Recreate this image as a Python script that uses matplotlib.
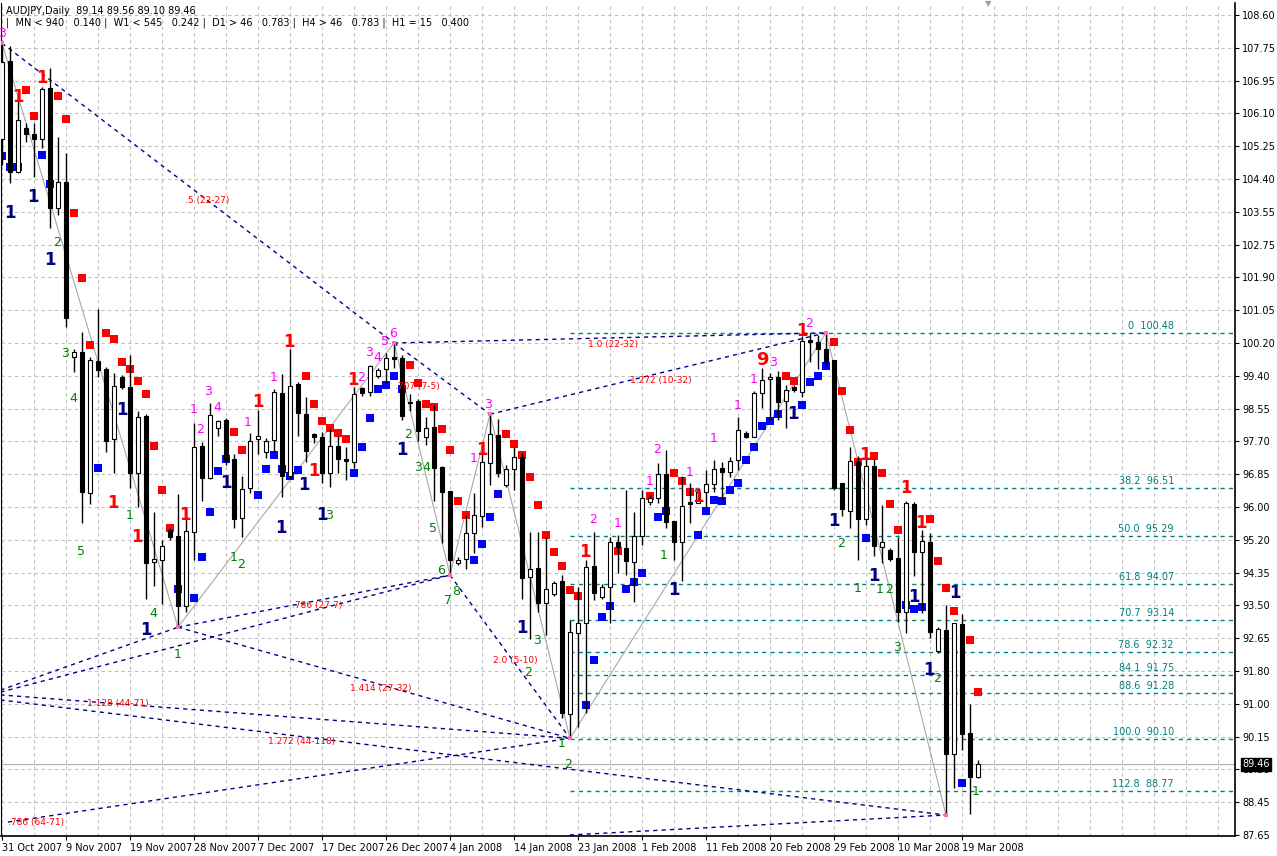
import numpy as np
import matplotlib
matplotlib.use("Agg")
from matplotlib import pyplot as plt

# AUDJPY daily candles, 31 Oct 2007 .. 19 Mar 2008 (one bar per index)
opens = [105.43, 107.42, 104.59, 105.72, 105.56, 105.43, 106.73, 103.67, 104.34, 99.86,
         99.99, 96.38, 99.76, 99.56, 97.76, 99.35, 99.10, 96.89, 98.35, 94.62,
         94.68, 95.44, 95.29, 93.50, 95.39, 97.58, 96.77, 98.04, 98.25, 97.25,
         95.75, 96.52, 97.76, 97.43, 97.74, 98.94, 96.82, 99.17, 98.40, 97.89,
         97.81, 96.89, 97.58, 97.25, 97.17, 99.07, 98.97, 99.38, 99.56, 99.84,
         99.84, 98.71, 98.74, 97.81, 98.07, 97.05, 96.44, 94.60, 94.70, 95.36,
         95.80, 97.15, 97.87, 96.59, 97.00, 97.30, 94.24, 94.47, 93.57, 93.80,
         94.14, 90.74, 92.81, 93.06, 94.52, 93.73, 93.98, 95.13, 94.98, 94.62,
         95.29, 96.16, 96.26, 96.87, 95.67, 95.13, 96.16, 96.13, 96.41, 96.62,
         97.02, 96.92, 97.23, 97.92, 97.81, 98.94, 99.30, 99.35, 98.74, 99.10,
         98.97, 100.27, 100.25, 100.07, 99.79, 96.64, 95.93, 97.18, 95.72, 97.07,
         95.01, 94.93, 94.73, 93.34, 96.11, 94.88, 95.13, 92.35, 92.89, 89.72,
         93.04, 90.25, 89.14]
highs = [107.88, 107.81, 106.55, 105.84, 105.84, 106.76, 107.25, 105.48, 105.07, 100.07,
         100.50, 99.86, 101.09, 99.61, 99.45, 99.40, 99.91, 98.48, 98.40, 95.90,
         95.19, 95.49, 96.36, 95.95, 98.17, 97.69, 98.68, 98.25, 98.30, 97.38,
         96.82, 97.92, 98.50, 97.79, 99.05, 99.43, 100.07, 99.22, 98.84, 97.92,
         97.94, 98.02, 97.84, 97.56, 99.10, 99.10, 99.66, 99.58, 99.96, 100.22,
         99.91, 98.92, 98.79, 98.32, 98.63, 97.07, 96.44, 94.75, 95.82, 96.38,
         97.61, 98.40, 98.28, 97.10, 97.56, 97.41, 95.39, 95.39, 95.26, 94.14,
         94.29, 93.14, 93.98, 94.68, 95.39, 94.06, 95.26, 95.31, 96.46, 95.90,
         96.46, 96.33, 97.15, 97.48, 95.67, 96.82, 96.64, 96.46, 96.97, 97.23,
         97.18, 97.30, 98.32, 97.97, 98.99, 99.58, 99.45, 99.50, 99.15, 99.15,
         100.40, 100.47, 100.42, 100.48, 99.79, 96.64, 97.56, 97.33, 97.53, 97.25,
         96.08, 94.98, 95.26, 96.18, 96.16, 95.44, 95.36, 92.96, 93.52, 93.06,
         93.29, 91.00, 89.56]
lows = [104.77, 104.31, 104.56, 105.36, 104.46, 105.21, 103.16, 103.48, 100.63, 99.48,
        95.62, 96.11, 99.35, 97.43, 96.89, 99.05, 96.52, 96.03, 93.68, 94.02,
        93.55, 95.19, 92.96, 93.34, 94.68, 96.18, 96.75, 97.84, 97.10, 95.49,
        95.26, 96.38, 97.38, 97.28, 97.43, 96.29, 96.77, 97.84, 97.18, 97.66,
        96.64, 96.54, 96.89, 96.72, 97.03, 98.86, 98.86, 99.33, 99.20, 99.58,
        98.25, 98.48, 97.71, 97.61, 96.18, 95.11, 94.29, 94.55, 94.45, 94.85,
        95.52, 96.59, 96.79, 96.54, 96.46, 93.68, 92.65, 93.34, 92.76, 93.75,
        90.64, 90.12, 90.41, 90.77, 93.65, 93.68, 93.06, 94.34, 94.29, 93.60,
        95.06, 96.08, 96.13, 95.49, 94.68, 94.14, 95.62, 96.13, 96.03, 96.41,
        96.21, 96.79, 96.97, 97.79, 97.81, 98.56, 98.25, 98.25, 98.04, 98.97,
        98.84, 99.73, 99.56, 99.66, 96.46, 95.80, 95.49, 94.68, 95.57, 94.78,
        94.60, 94.65, 93.09, 92.81, 94.27, 93.32, 92.68, 92.30, 88.16, 88.85,
        89.82, 88.18, 89.10]
closes = [107.40, 104.59, 105.92, 105.56, 105.43, 106.71, 103.67, 104.34, 100.86, 99.99,
          96.41, 99.79, 99.53, 97.71, 99.13, 99.10, 96.89, 98.32, 94.60, 94.70,
          95.04, 95.26, 93.50, 95.41, 97.56, 96.77, 98.38, 98.22, 97.20, 95.72,
          96.49, 97.71, 97.84, 97.71, 98.97, 96.82, 99.12, 98.43, 97.46, 97.81,
          96.89, 97.58, 97.25, 97.20, 98.92, 98.94, 99.63, 99.53, 99.84, 99.81,
          98.35, 98.68, 97.97, 98.04, 97.02, 96.41, 94.68, 94.68, 95.36, 95.82,
          97.18, 97.89, 96.89, 97.00, 97.30, 94.21, 94.45, 93.57, 93.93, 94.09,
          90.77, 92.83, 93.06, 94.50, 93.83, 93.98, 95.13, 95.01, 94.65, 95.29,
          96.26, 96.26, 96.87, 95.65, 95.13, 96.05, 96.11, 96.41, 96.62, 97.00,
          96.92, 97.20, 97.99, 97.81, 98.94, 99.27, 99.35, 98.71, 99.02, 99.02,
          100.27, 100.25, 100.07, 99.76, 96.52, 95.98, 97.20, 95.72, 97.07, 95.03,
          95.13, 94.70, 93.34, 96.13, 94.88, 95.16, 92.83, 92.91, 89.72, 93.06,
          90.23, 89.13, 89.46]

date_labels = ["31 Oct 2007", "9 Nov 2007", "19 Nov 2007", "28 Nov 2007", "7 Dec 2007",
               "17 Dec 2007", "26 Dec 2007", "4 Jan 2008", "14 Jan 2008", "23 Jan 2008",
               "1 Feb 2008", "11 Feb 2008", "20 Feb 2008", "29 Feb 2008", "10 Mar 2008",
               "19 Mar 2008"]
price_labels = ["87.65", "88.45", "89.30", "90.15", "91.00", "91.80", "92.65", "93.50",
                "94.35", "95.20", "96.00", "96.85", "97.70", "98.55", "99.40", "100.20",
                "101.05", "101.90", "102.75", "103.55", "104.40", "105.25", "106.10",
                "106.95", "107.75", "108.60"]

# trailing stop squares
red_bars = [3, 4, 7, 8, 9, 10, 11, 13, 14, 15, 16, 17, 18, 19, 20, 21, 29, 30,
            38, 39, 40, 41, 42, 43, 51, 52, 53, 54, 55, 56, 57, 58,
            63, 64, 65, 66, 67, 68, 69, 70, 71, 72, 77, 81, 84, 85, 86, 98, 99,
            104, 105, 106, 107, 109, 110, 111, 112, 116, 117, 118, 119, 121, 122]
red_vals = [106.68, 106.02, 106.53, 105.94, 103.54, 101.88, 100.17, 100.47, 100.32, 99.73,
            99.56, 99.25, 98.92, 97.59, 96.46, 95.49, 97.95, 97.49,
            99.38, 98.66, 98.23, 98.05, 97.92, 97.77, 99.66, 99.20, 98.66, 98.58, 98.02,
            97.49, 96.18, 95.82,
            97.89, 97.64, 97.36, 96.80, 96.08, 95.31, 94.88, 94.52, 93.91, 93.76, 94.90,
            96.31, 96.90, 96.69, 96.41, 99.38, 99.25,
            100.24, 98.99, 97.99, 97.18, 97.33, 96.90, 96.11, 95.44, 95.72, 94.65, 93.96,
            93.37, 92.63, 91.30]
blue_bars = [0, 1, 2, 5, 6, 12, 22, 24, 25, 26, 27, 28, 32, 33, 34, 35, 36, 37,
             44, 45, 46, 47, 48, 49, 50, 59, 60, 61, 62, 73, 74, 75, 76, 78, 79, 80,
             82, 83, 87, 88, 89, 90, 91, 92, 93, 94, 95, 96, 97, 100, 101, 102, 103,
             108, 113, 114, 115, 120]
blue_vals = [105.00, 104.72, 104.72, 105.02, 104.28, 97.03, 93.93, 93.70, 94.75, 95.90,
             96.95, 97.25, 96.34, 97.00, 97.36, 97.00, 96.82, 96.98,
             96.90, 97.56, 98.30, 99.04, 99.15, 99.38, 99.04, 94.68, 95.08, 95.77, 96.36,
             90.97, 92.12, 93.22, 93.50, 93.93, 94.11, 94.34,
             95.77, 95.93, 95.31, 95.93, 96.21, 96.18, 96.46, 96.64, 97.23, 97.56, 98.10,
             98.23, 98.41, 98.64, 99.22, 99.38, 99.63,
             95.24, 93.52, 93.42, 93.47, 88.98]

# wave counters (bar, price, text)
navy_marks = [(1, 103.54, "1"), (3.9, 103.95, "1"), (6, 102.34, "1"), (15, 98.51, "1"),
              (18, 92.89, "1"), (28, 96.64, "1"), (34.9, 95.49, "1"), (37.7, 96.58, "1"),
              (40, 95.83, "1"), (50, 97.49, "1"), (65, 92.94, "1"), (84, 93.91, "1"),
              (98.9, 98.41, "1"), (104, 95.67, "1"), (109, 94.27, "1"), (114, 93.73, "1"),
              (115.9, 91.86, "1"), (119.1, 93.83, "1")]
red_marks = [(2, 106.50, "1"), (5, 106.99, "1"), (13.9, 96.13, "1"), (16.9, 95.26, "1"),
             (22.9, 95.82, "1"), (32, 98.71, "1"), (35.9, 100.25, "1"), (39.0, 96.95, "1"),
             (43.9, 99.27, "1"), (60, 97.49, "1"), (72.9, 94.88, "1"), (87, 96.28, "1"),
             (100, 100.53, "1"), (107.9, 97.36, "1"), (113, 96.51, "1"), (114.9, 95.62, "1"),
             (95, 99.78, "9")]
magenta_marks = [(0, 108.14, "3"), (23.9, 98.51, "1"), (24.75, 98.02, "2"), (25.75, 98.97, "3"),
                 (26.9, 98.56, "4"), (30.75, 98.18, "1"), (33.9, 99.33, "1"), (44.9, 99.35, "2"),
                 (45.9, 99.99, "3"), (46.9, 99.86, "4"), (47.9, 100.25, "5"), (48.9, 100.47, "6"),
                 (58.9, 97.26, "1"), (60.75, 98.66, "3"), (73.9, 95.70, "2"), (76.9, 95.62, "1"),
                 (80.9, 96.67, "1"), (81.9, 97.49, "2"), (85.9, 96.92, "1"), (88.9, 97.79, "1"),
                 (91.9, 98.63, "1"), (93.9, 99.30, "1"), (96.4, 99.71, "3"), (100.9, 100.73, "2")]
green_marks = [(6.9, 102.80, "2"), (7.9, 99.96, "3"), (8.9, 98.81, "4"), (9.9, 94.90, "5"),
               (15.9, 95.80, "1"), (18.9, 93.32, "4"), (22, 92.25, "1"), (28.9, 94.75, "1"),
               (29.9, 94.57, "2"), (40.9, 95.82, "3"), (50.75, 97.89, "2"), (52, 97.05, "3"),
               (53, 97.05, "4"), (53.9, 95.49, "5"), (54.9, 94.42, "6"), (55.75, 93.65, "7"),
               (56.75, 93.86, "8"), (65.75, 91.80, "2"), (66.9, 92.63, "3"), (69.9, 90.00, "1"),
               (70.75, 89.44, "2"), (82.75, 94.80, "1"), (104.9, 95.11, "2"), (106.9, 93.96, "1"),
               (109.75, 93.91, "1"), (110.9, 93.91, "2"), (111.9, 92.43, "3"), (116.9, 91.66, "2"),
               (121.75, 88.75, "1")]

# zigzag pivots
zz_bars = [0, 22, 49, 56, 61, 71, 103, 118]
zz_vals = [107.88, 92.96, 100.22, 94.29, 98.40, 90.12, 100.48, 88.16]

# ratio lines: (bar1, price1, bar2, price2)
ratio_lines = [(0, 107.88, 49, 100.22), (49, 100.22, 61, 98.40), (61, 98.40, 103, 100.48),
               (49, 100.22, 103, 100.48), (22, 92.96, 56, 94.29), (56, 94.29, 71, 90.12),
               (22, 92.96, 71, 90.12), (-0.2, 91.35, 22, 92.96), (-0.2, 91.30, 56, 94.29),
               (-0.2, 91.23, 71, 90.12), (-0.2, 91.10, 118, 88.16), (0.75, 87.98, 71, 90.12),
               (71, 87.65, 118, 88.16)]
ratio_texts = [(22.9, 103.85, ".5 (22-27)"), (49.1, 99.12, ".707 (7-5)"),
               (78.5, 99.27, "1.272 (10-32)"), (73.25, 100.17, "1.0 (22-32)"),
               (36.25, 93.52, ".786 (27-7)"), (61.4, 92.12, "2.0 (5-10)"),
               (43.5, 91.38, "1.414 (27-32)"), (10.6, 91.02, "1.128 (44-71)"),
               (33.25, 90.05, "1.272 (44-118)"), (0.75, 87.96, ".786 (64-71)")]

fib_pct = ["0", "38.2", "50.0", "61.8", "70.7", "78.6", "84.1", "88.6", "100.0", "112.8"]
fib_vals = [100.48, 96.51, 95.29, 94.07, 93.14, 92.32, 91.75, 91.28, 90.10, 88.77]

last_price = 89.46

W, H = 1277, 856
fig = plt.figure(figsize=(W / 100, H / 100), dpi=100)
fig.patch.set_facecolor("white")
ax = fig.add_axes([1 / W, 20 / H, 1234 / W, 833 / H])
ax.set_xlim(-0.125, 154.125)
ax.set_ylim(87.624, 108.907)

n = len(opens)
xs = np.arange(n)

# grid
grid_kw = dict(color="#c0c0c0", lw=0.8, linestyle=(0, (3, 3)), zorder=0)
for gx in range(0, 156, 4):
    ax.axvline(gx, **grid_kw)
yt = np.linspace(87.65, 108.60, 26)
for gy in yt:
    ax.axhline(gy, **grid_kw)

# current price line
ax.axhline(last_price, color="#b4b4b4", lw=0.9, zorder=1)

# fib levels
for pct, v in zip(fib_pct, fib_vals):
    ax.plot([71, 154.2], [v, v], color="#008080", lw=1, linestyle=(0, (3, 3)), zorder=2)
    ax.text(146.5, v + 0.05, pct + "  " + f"{v:.2f}", color="#008080", fontsize=7,
            ha="right", va="bottom", zorder=6)

# ratio lines
for b1, p1, b2, p2 in ratio_lines:
    ax.plot([b1, b2], [p1, p2], color="#00008b", lw=1, linestyle=(0, (3, 3)), zorder=2)
for b, p, t in ratio_texts:
    ax.text(b, p, t, color="red", fontsize=6.5, ha="left", va="center", zorder=6)

# zigzag
ax.plot(zz_bars, zz_vals, color="#a8a8a8", lw=0.8, zorder=2)
ax.scatter(zz_bars, zz_vals, marker="s", s=8, color="#ff69b4", zorder=7, linewidths=0)

# stop squares
ax.scatter(red_bars, red_vals, marker="s", s=30, color="#ff0000", linewidths=0, zorder=3)
ax.scatter(blue_bars, blue_vals, marker="s", s=30, color="#0000ff", linewidths=0, zorder=3)

# candles
ax.vlines(xs, lows, highs, color="black", lw=1, zorder=4)
o = np.array(opens)
c = np.array(closes)
bottoms = np.minimum(o, c)
heights = np.maximum(np.abs(c - o), 0.04)
face = ["white" if cc >= oo else "black" for oo, cc in zip(opens, closes)]
ax.bar(xs, heights, bottom=bottoms, width=0.62, color=face, edgecolor="black",
       linewidth=0.8, zorder=5)

# wave counters
for b, p, t in navy_marks:
    ax.text(b, p, t, color="#000080", fontsize=12, fontweight="bold", ha="center",
            va="center", zorder=6)
for b, p, t in red_marks:
    ax.text(b, p, t, color="red", fontsize=13 if t == "9" else 12, fontweight="bold",
            ha="center", va="center", zorder=6)
for b, p, t in magenta_marks:
    ax.text(b, p, t, color="#ff00ff", fontsize=9, ha="center", va="center", zorder=6)
for b, p, t in green_marks:
    ax.text(b, p, t, color="#008000", fontsize=9, ha="center", va="center", zorder=6)

# axes styling
ax.spines["top"].set_visible(False)
ax.spines["right"].set_linewidth(1.2)
ax.spines["bottom"].set_linewidth(1.2)
ax.yaxis.tick_right()
ax.set_yticks(yt)
ax.set_yticklabels(price_labels)
ax.tick_params(axis="y", length=3, width=0.8, labelsize=7, pad=2)
ax.set_xticks(np.arange(0, 121, 8))
ax.set_xticklabels(date_labels, ha="left")
ax.tick_params(axis="x", length=3, width=0.8, labelsize=7, pad=2)

# bid tag sits over the 89.30 label, as in the terminal
ax.text(1.006, (last_price - 87.624) / (108.907 - 87.624), f"{last_price:.2f}",
        transform=ax.transAxes, fontsize=7, color="white", ha="left", va="center",
        bbox=dict(boxstyle="square,pad=0.15", fc="black", ec="black"), zorder=10,
        clip_on=False)

# header
fig.text(6 / W, 1 - 11 / H, "AUDJPY,Daily  89.14 89.56 89.10 89.46", fontsize=7,
         ha="left", va="center")
fig.text(6 / W, 1 - 23 / H,
         "|  MN < 940   0.140 |  W1 < 545   0.242 |  D1 > 46   0.783 |  H4 > 46   0.783 |  H1 = 15   0.400",
         fontsize=7, ha="left", va="center")
fig.text(988 / W, 1 - 4 / H, "\u25bc", fontsize=6, color="#a0a0a0", ha="center", va="center")

fig.savefig("out.png", dpi=100)
